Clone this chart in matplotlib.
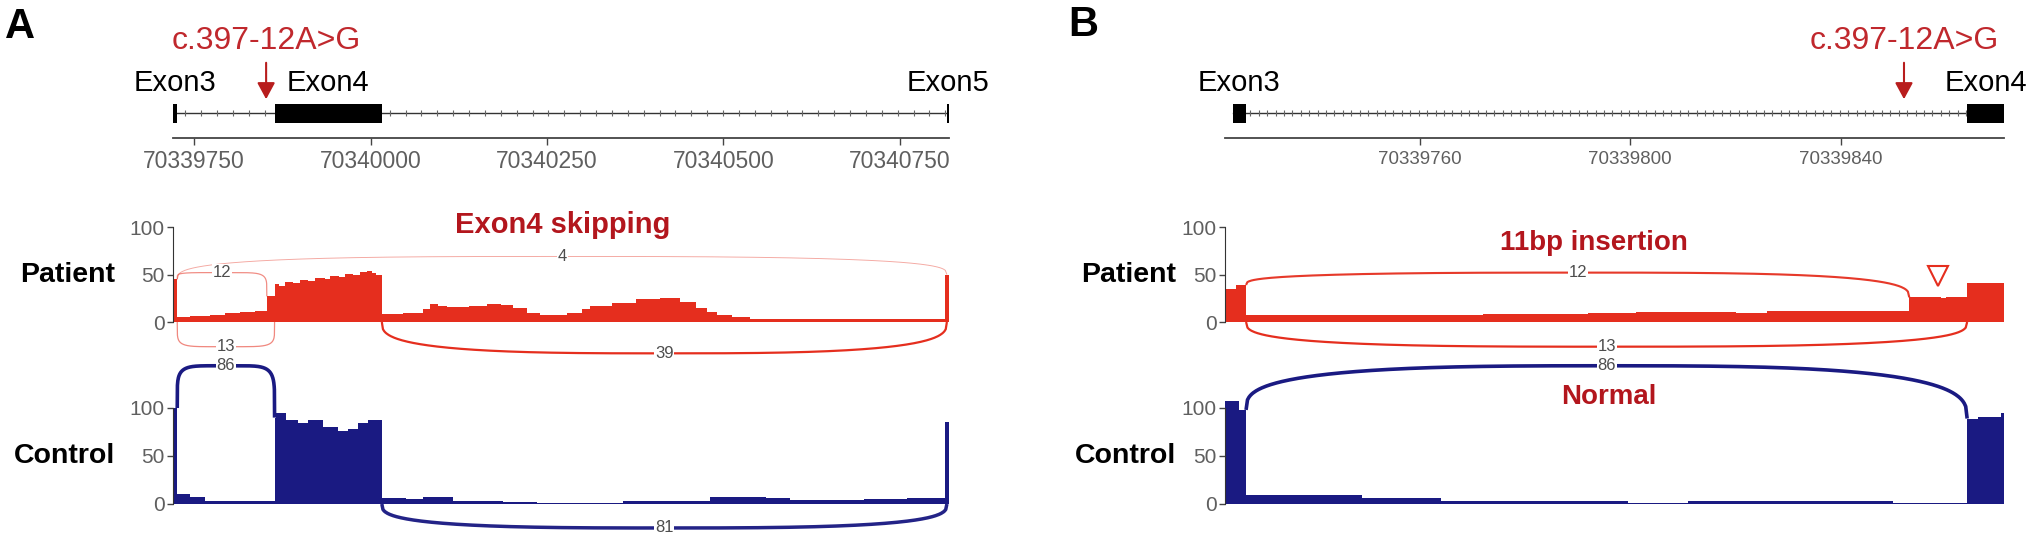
import numpy as np
import matplotlib
matplotlib.use("Agg")
import matplotlib.pyplot as plt
from matplotlib.patches import Rectangle
from matplotlib import font_manager

# ---------------- data ----------------
mutation_label = "c.397-12A>G"
mutation_pos = 70339852

# panel A: Exon3 - Exon4 - Exon5
a_xlim = (70339720, 70340820)
a_ticks = [70339750, 70340000, 70340250, 70340500, 70340750]
a_exons = [(70339720, 70339726), (70339864, 70340016), (70340817, 70340820)]
a_exon_names = ["Exon3", "Exon4", "Exon5"]

# coverage as steps: positions (n+1 edges) and depth (n values)
a_pat_pos = [70339720, 70339726, 70339744, 70339773, 70339794, 70339815, 70339836,
             70339853, 70339864, 70339870, 70339879, 70339890, 70339900, 70339912,
             70339921, 70339935, 70339943, 70339955, 70339964, 70339975, 70339985,
             70339995, 70340002, 70340008, 70340016, 70340046, 70340074, 70340084,
             70340095, 70340108, 70340140, 70340165, 70340185, 70340202, 70340222,
             70340240, 70340278, 70340300, 70340311, 70340343, 70340377, 70340410,
             70340438, 70340462, 70340477, 70340491, 70340513, 70340538, 70340650,
             70340700, 70340814, 70340820]
a_pat_cov = [45, 5, 6, 7, 9, 11, 12,
             27, 40, 38, 42, 41, 44, 43,
             46, 45, 48, 47, 51, 50, 53,
             54, 52, 50, 8, 10, 14, 19,
             17, 16, 17, 19, 18, 15, 10,
             7, 10, 14, 17, 20, 24, 25,
             21, 15, 11, 7, 5, 3.5, 3,
             3.5, 50]

a_ctl_pos = [70339720, 70339726, 70339744, 70339766, 70339864, 70339866, 70339880,
             70339897, 70339911, 70339933, 70339954, 70339968, 70339982, 70339996,
             70340016, 70340050, 70340074, 70340117, 70340188, 70340236, 70340358,
             70340481, 70340560, 70340594, 70340700, 70340760, 70340814, 70340820]
a_ctl_cov = [100, 10, 7, 3.5, 90, 95, 88,
             84, 87, 80, 76, 78, 84, 88,
             6, 5, 7, 3, 2, 1.5, 3,
             7, 6, 4, 5, 6, 85]

# junctions: (donor, acceptor, reads)
a_pat_junc = [(70339726, 70339853, 12), (70339726, 70339864, 13),
              (70339726, 70340817, 4), (70340016, 70340817, 39)]
a_ctl_junc = [(70339726, 70339864, 86), (70340016, 70340817, 81)]

# panel B: Exon3 - Exon4 zoom
b_xlim = (70339723, 70339871)
b_ticks = [70339760, 70339800, 70339840]
b_exons = [(70339724.5, 70339727), (70339864, 70339871)]
b_exon_names = ["Exon3", "Exon4"]

b_pat_pos = [70339723, 70339725, 70339727, 70339772, 70339792, 70339801, 70339820,
             70339826, 70339853, 70339859, 70339860, 70339864, 70339871]
b_pat_cov = [35, 39, 7, 8, 9.5, 11, 10, 12, 26, 25, 26, 41]

b_ctl_pos = [70339723, 70339725.7, 70339727, 70339749, 70339764, 70339799.5,
             70339811, 70339850, 70339864, 70339866, 70339870.5, 70339871]
b_ctl_cov = [107, 98, 9, 6, 3, 1.5, 3, 1.5, 89, 91, 95]

b_pat_junc = [(70339727, 70339853, 12), (70339727, 70339864, 13)]
b_ctl_junc = [(70339727, 70339864, 86)]

# ---------------- style / layout ----------------
W, H = 2031, 536
RED = "#E52E1E"
BLUE = "#1A1A82"
DARKRED = "#B3161D"
MUTRED = "#C0282D"
GREY = "#5f5f5f"

names = {f.name for f in font_manager.fontManager.ttflist}
NARROW = "Liberation Sans Narrow" if "Liberation Sans Narrow" in names else "Liberation Sans"
plt.rcParams["font.family"] = ["Liberation Sans", "DejaVu Sans"]

fig = plt.figure(figsize=(W / 100, H / 100), dpi=100)


def rect(l, r, top, bot):
    return [l / W, 1 - bot / H, (r - l) / W, (bot - top) / H]


def cov_at(pos, cov, x, side):
    i = np.searchsorted(pos, x, side=side) - 1
    return cov[max(0, min(i, len(cov) - 1))]


def arc_xy(x0, x1, y0, y1, h, p, n=500):
    t = np.linspace(0, 1, n)
    base = y0 + (y1 - y0) * t
    s = (1 - np.abs(2 * t - 1) ** p) ** (1 / p)
    return x0 + (x1 - x0) * t, base + (h - base) * s


def gene_track(ax, xlim, exons, names_, ticks, tick_size, tick_step):
    ax.set_xlim(xlim)
    ax.set_ylim(0, 43)
    ax.plot([exons[0][0], exons[-1][1]], [25, 25], color="#333333", lw=1.0, zorder=1)
    for (s, e), (s2, e2) in zip(exons[:-1], exons[1:]):
        xs = np.arange(e + tick_step / 2, s2, tick_step)
        ax.plot(xs, np.full(len(xs), 25), ls="none", marker="|", ms=4,
                mew=0.8, color="#666666", zorder=1)
    for (s, e), nm in zip(exons, names_):
        ax.add_patch(Rectangle((s, 15), e - s, 19, color="black", lw=0, zorder=2))
        ax.text((s + e) / 2, 55, nm, ha="center", va="center", fontsize=21)
    ax.annotate("", xy=(mutation_pos, 36), xytext=(mutation_pos, 78),
                arrowprops=dict(arrowstyle="-|>,head_width=0.27,head_length=0.5",
                                mutation_scale=20, color="#B81D1D", lw=1.5))
    ax.text(mutation_pos, 97, mutation_label, ha="center", va="center",
            fontsize=23, color=MUTRED)
    for sp in ["top", "left", "right"]:
        ax.spines[sp].set_visible(False)
    ax.spines["bottom"].set_color("#444444")
    ax.spines["bottom"].set_linewidth(1.3)
    ax.set_yticks([])
    ax.set_xticks(ticks, labels=[str(t) for t in ticks])
    ax.tick_params(axis="x", colors="#444444", labelcolor=GREY, labelsize=tick_size,
                   length=5, width=1, pad=4)
    for lab in ax.get_xticklabels():
        lab.set_family(NARROW)


def sashimi(ax, xlim, ylim, pos, cov, junc, arc_y, color, lw_max):
    ax.set_xlim(xlim)
    ax.set_ylim(ylim)
    ax.fill_between(pos, list(cov) + [cov[-1]], step="post", color=color, lw=0, zorder=1)
    span = xlim[1] - xlim[0]
    n_max = max(j[2] for j in junc)
    for (d, a, n), h in zip(junc, arc_y):
        if h > 0:
            y0 = cov_at(pos, cov, d, "left")
            y1 = cov_at(pos, cov, a, "right")
        else:
            y0 = y1 = 0
        p = 3 if (a - d) > 0.3 * span else 6
        xs, ys = arc_xy(d, a, y0, y1, h, p)
        r = n / n_max
        ax.plot(xs, ys, color=color, lw=lw_max * (0.35 + 0.65 * r),
                alpha=0.35 + 0.65 * r, clip_on=False, solid_capstyle="butt", zorder=3)
        ax.text((d + a) / 2, h, str(n), ha="center", va="center", fontsize=12,
                color="#4d4d4d", family=NARROW, zorder=4,
                bbox=dict(boxstyle="square,pad=0.05", fc="white", ec="none"))
    for sp in ["top", "bottom", "right"]:
        ax.spines[sp].set_visible(False)
    ax.spines["left"].set_bounds(0, 100)
    ax.spines["left"].set_color("#333333")
    ax.set_xticks([])
    ax.set_yticks([0, 50, 100])
    ax.tick_params(axis="y", colors="#444444", labelcolor=GREY, labelsize=15,
                   length=4, width=1, pad=2)
    for lab in ax.get_yticklabels():
        lab.set_family(NARROW)
    ax.patch.set_visible(False)


PAT_Y = (-40, 110)
CTL_Y = (-32, 150)

# ---- panel A ----
A_L, A_R = 173, 949
ga = fig.add_axes(rect(A_L, A_R, 95, 138))
gene_track(ga, a_xlim, a_exons, a_exon_names, a_ticks, 16.5, 22.5)

pa = fig.add_axes(rect(A_L, A_R, 217.5, 360))
sashimi(pa, a_xlim, PAT_Y, a_pat_pos, a_pat_cov, a_pat_junc, [52, -26, 69, -33], RED, 1.6)
pa.text(70340273, 102, "Exon4 skipping", ha="center", va="center", fontsize=21,
        fontweight="bold", color=DARKRED)

ca = fig.add_axes(rect(A_L, A_R, 360, 534.7))
sashimi(ca, a_xlim, CTL_Y, a_ctl_pos, a_ctl_cov, a_ctl_junc, [144, -25], BLUE, 2.6)

fig.text(115 / W, 1 - 275 / H, "Patient", ha="right", va="center", fontsize=20.5, fontweight="bold")
fig.text(115 / W, 1 - 456 / H, "Control", ha="right", va="center", fontsize=20.5, fontweight="bold")
fig.text(20 / W, 1 - 27 / H, "A", ha="center", va="center", fontsize=30, fontweight="bold")

# ---- panel B ----
B_L, B_R = 1225, 2004
gb = fig.add_axes(rect(B_L, B_R, 95, 138))
gene_track(gb, b_xlim, b_exons, b_exon_names, b_ticks, 13.5, 1.6)

pb = fig.add_axes(rect(B_L, B_R, 217.5, 360))
sashimi(pb, b_xlim, PAT_Y, b_pat_pos, b_pat_cov, b_pat_junc, [52, -26], RED, 1.6)
pb.text(70339793, 83, "11bp insertion", ha="center", va="center", fontsize=20,
        fontweight="bold", color=DARKRED)
pb.plot([70339858.5], [48], marker="v", ms=14, mfc="white", mec=RED, mew=1.5,
        clip_on=False, zorder=5)

cb = fig.add_axes(rect(B_L, B_R, 360, 534.7))
sashimi(cb, b_xlim, CTL_Y, b_ctl_pos, b_ctl_cov, b_ctl_junc, [144], BLUE, 2.6)
cb.text(70339796, 111, "Normal", ha="center", va="center", fontsize=20,
        fontweight="bold", color=DARKRED)

fig.text(1176 / W, 1 - 275 / H, "Patient", ha="right", va="center", fontsize=20.5, fontweight="bold")
fig.text(1176 / W, 1 - 456 / H, "Control", ha="right", va="center", fontsize=20.5, fontweight="bold")
fig.text(1083 / W, 1 - 25 / H, "B", ha="center", va="center", fontsize=30, fontweight="bold")

fig.savefig("out.png", dpi=100, facecolor="white")
